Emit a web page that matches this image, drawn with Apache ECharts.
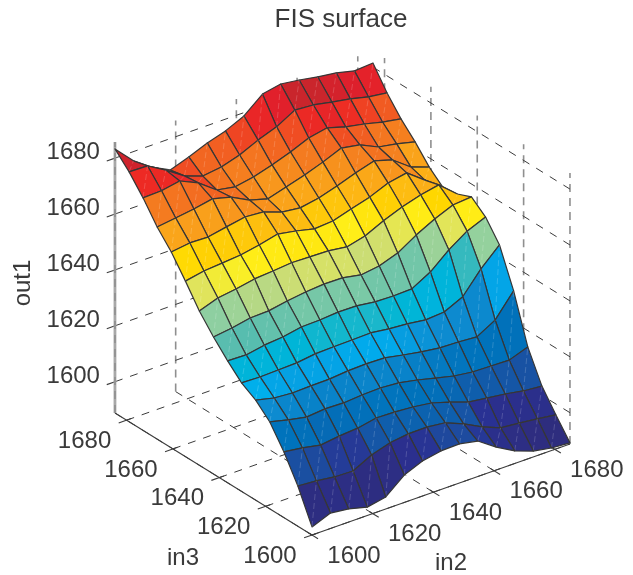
<!DOCTYPE html>
<html><head><meta charset="utf-8">
<style>html,body{margin:0;padding:0;background:#fff}#c{width:633px;height:575px}</style>
<script src="https://cdn.jsdelivr.net/npm/echarts@6/dist/echarts.min.js"></script>
</head><body><div id="c"></div>
<script>
var in2Values=[1600,1606.1,1612.1,1618.2,1624.3,1630.4,1636.4,1642.5,1648.6,1654.6,1660.7,1666.8,1672.9,1678.9,1685];
var in3Values=[1600,1606.1,1612.1,1618.2,1624.3,1630.4,1636.4,1642.5,1648.6,1654.6,1660.7,1666.8,1672.9,1678.9,1685];
var out1In3_00=[1591.7,1594.3,1593.5,1591.8,1593.1,1598.6,1601.3,1602.6,1602.8,1601.5,1597.0,1593.3,1590.9,1589.7,1589.2];
var out1In3_01=[1603.2,1602.7,1601.8,1601.6,1605.0,1607.0,1607.9,1608.0,1607.2,1604.5,1601.1,1598.4,1597.8,1597.0,1596.1];
var out1In3_02=[1612.3,1611.4,1610.1,1611.0,1611.5,1612.8,1612.6,1612.1,1611.2,1609.2,1606.9,1606.0,1605.1,1603.9,1603.3];
var out1In3_03=[1619.9,1618.3,1617.0,1617.6,1617.4,1617.9,1618.1,1617.6,1616.3,1614.7,1613.1,1612.2,1612.0,1611.8,1614.2];
var out1In3_04=[1624.6,1623.0,1622.5,1622.7,1622.8,1623.4,1623.6,1623.4,1622.1,1620.9,1620.0,1619.8,1619.3,1623.0,1631.1];
var out1In3_05=[1627.6,1627.4,1627.6,1627.8,1628.7,1628.9,1629.0,1629.2,1628.3,1627.8,1626.9,1627.4,1630.5,1638.2,1644.4];
var out1In3_06=[1632.4,1632.2,1633.4,1634.0,1635.2,1635.4,1635.9,1635.8,1634.9,1634.7,1634.9,1638.6,1644.2,1648.6,1651.3];
var out1In3_07=[1637.8,1638.7,1640.0,1640.2,1641.4,1642.3,1642.8,1642.7,1641.4,1642.3,1644.6,1648.7,1652.1,1654.8,1655.4];
var out1In3_08=[1644.0,1646.3,1647.2,1648.5,1649.0,1649.6,1649.4,1649.2,1648.3,1649.9,1653.0,1655.6,1657.6,1658.9,1653.3];
var out1In3_09=[1651.6,1652.9,1653.4,1654.0,1655.2,1656.8,1655.6,1654.0,1654.5,1656.5,1658.4,1661.1,1662.4,1657.5,1652.3];
var out1In3_10=[1658.9,1659.8,1659.6,1660.9,1662.1,1661.6,1659.2,1658.4,1659.6,1661.6,1663.9,1665.9,1663.9,1659.1,1656.7];
var out1In3_11=[1664.7,1665.6,1666.5,1667.8,1666.1,1662.7,1660.8,1662.7,1664.7,1667.0,1669.7,1668.5,1665.4,1664.2,1662.6];
var out1In3_12=[1672.0,1672.2,1673.4,1670.4,1665.5,1664.3,1665.5,1667.5,1669.8,1672.5,1673.8,1671.8,1670.5,1668.9,1667.7];
var out1In3_13=[1678.2,1678.0,1674.2,1669.8,1667.4,1668.3,1670.3,1673.3,1675.7,1679.4,1678.9,1677.6,1676.4,1674.8,1673.9];
var out1In3_14=[1683.3,1676.7,1672.2,1668.8,1671.1,1673.8,1675.8,1678.8,1684.3,1685.6,1684.7,1683.5,1682.6,1681.0,1681.5];
var out1Rows=[out1In3_00,out1In3_01,out1In3_02,out1In3_03,out1In3_04,out1In3_05,out1In3_06,out1In3_07,out1In3_08,out1In3_09,out1In3_10,out1In3_11,out1In3_12,out1In3_13,out1In3_14];
var in2Ticks=[1600,1620,1640,1660,1680];
var in3Ticks=[1600,1620,1640,1660,1680];
var out1Ticks=[1600,1620,1640,1660,1680];
var colorLevels=[1590,1601,1603,1612,1620,1624,1628,1632,1638,1641,1644,1648,1652,1656,1660,1665,1669,1672,1676,1679,1686];
var colorValues=['#2e2d7e','#2a3092','#1b4ea0','#0072bb','#0d8bd0','#00aeef','#00b5d6','#55bcb0','#90d0a0','#c8dc78','#e0e45c','#fff01a','#ffd800','#fdb913','#f99d1c','#f47920','#f15a22','#ed2a24','#e01f2c','#c9252c','#c9252c'];

var IN_MIN=1600,IN_MAX=1685,Z_MIN=1588.8,Z_MAX=1685.8;
function project(a,b,z){
  return [312+(a-1600)*3.035-(b-1600)*2.318, 535-(a-1600)*1.0706-(b-1600)*1.435-(z-Z_MIN)*2.795];
}
function hex(c){return [parseInt(c.substr(1,2),16),parseInt(c.substr(3,2),16),parseInt(c.substr(5,2),16)];}
function colorOf(z){
  var n=colorLevels.length;
  if(z<=colorLevels[0])return colorValues[0];
  for(var k=1;k<n;k++){
    if(z<=colorLevels[k]){
      var t=(z-colorLevels[k-1])/(colorLevels[k]-colorLevels[k-1]),p=hex(colorValues[k-1]),q=hex(colorValues[k]);
      return 'rgb('+Math.round(p[0]+(q[0]-p[0])*t)+','+Math.round(p[1]+(q[1]-p[1])*t)+','+Math.round(p[2]+(q[2]-p[2])*t)+')';
    }
  }
  return colorValues[n-1];
}
// surface cells, back to front
var cells=[];
for(var j=in3Values.length-2;j>=0;j--){
  for(var i=in2Values.length-2;i>=0;i--){
    cells.push([in2Values[i],in3Values[j],out1Rows[j][i],
                in2Values[i+1],in3Values[j],out1Rows[j][i+1],
                in2Values[i+1],in3Values[j+1],out1Rows[j+1][i+1],
                in2Values[i],in3Values[j+1],out1Rows[j+1][i]]);
  }
}
cells.sort(function(a,b){return (b[0]+b[1])-(a[0]+a[1]);});
// frame segments: a,b,z,a,b,z,style
var segs=[];
function seg(a1,b1,z1,a2,b2,z2,s){segs.push([a1,b1,z1,a2,b2,z2,s]);}
in2Ticks.forEach(function(t){
  seg(t,IN_MIN,Z_MIN,t,IN_MAX,Z_MIN,0);
  seg(t,IN_MAX,Z_MIN,t,IN_MAX,Z_MAX,1);
  seg(t,IN_MIN-2.6,Z_MIN,t,IN_MIN+1.5,Z_MIN,2);
});
in3Ticks.forEach(function(t){
  seg(IN_MIN,t,Z_MIN,IN_MAX,t,Z_MIN,0);
  seg(IN_MAX,t,Z_MIN,IN_MAX,t,Z_MAX,1);
  seg(IN_MIN-2.6,t,Z_MIN,IN_MIN+1.5,t,Z_MIN,2);
});
out1Ticks.forEach(function(t){
  seg(IN_MIN,IN_MAX,t,IN_MAX,IN_MAX,t,0);
  seg(IN_MAX,IN_MAX,t,IN_MAX,IN_MIN,t,0);
  seg(IN_MIN-2.7,IN_MAX,t,IN_MIN,IN_MAX,t,2);
});
seg(IN_MIN,IN_MIN,Z_MIN,IN_MIN,IN_MAX,Z_MIN,2);
seg(IN_MIN,IN_MIN,Z_MIN,IN_MAX,IN_MIN,Z_MIN,2);
seg(IN_MIN,IN_MAX,Z_MIN,IN_MIN,IN_MAX,Z_MAX,3);
seg(IN_MIN,IN_MAX,Z_MIN,IN_MIN,IN_MAX,Z_MAX,1);
var segStyles=[
  {stroke:'#3c3c3c',lineWidth:1,lineDash:[8,8]},
  {stroke:'#8f8f8f',lineWidth:1.6,lineDash:[8,6]},
  {stroke:'#3c3c3c',lineWidth:1.1},
  {stroke:'#a8a8a8',lineWidth:2.8}
];
// tick labels: a,b,z,text,dx,dy,align
var labels=[];
in2Ticks.forEach(function(t){labels.push([t,IN_MIN,Z_MIN,String(t),42,21,'center']);});
in3Ticks.forEach(function(t){labels.push([IN_MIN,t,Z_MIN,String(t),-42,21,'center']);});
out1Ticks.forEach(function(t){labels.push([IN_MIN,IN_MAX,t,String(t),-15,-5.5,'right']);});

var TEXT='#3a3a3a',FONT='"Liberation Sans",Arial,sans-serif',FS='24px ';
var chart=echarts.init(document.getElementById('c'),null,{renderer:'canvas'});
function pt(api,a,b,z){return api.coord(project(a,b,z));}
chart.setOption({
  animation:false,backgroundColor:'#fff',
  title:{text:'FIS surface',left:336,top:2,textAlign:'center',textStyle:{color:TEXT,fontSize:26,fontWeight:'normal',fontFamily:FONT}},
  grid:{left:0,right:0,top:0,bottom:0},
  xAxis:{type:'value',min:0,max:633,show:false},
  yAxis:{type:'value',min:0,max:575,inverse:true,show:false},
  tooltip:{show:false},
  graphic:[
    {type:'text',x:23,y:283,rotation:Math.PI/2,style:{text:'out1',fill:TEXT,font:FS+FONT,textAlign:'center',textVerticalAlign:'middle'},silent:true},
    {type:'text',x:183,y:558,style:{text:'in3',fill:TEXT,font:FS+FONT,textAlign:'center',textVerticalAlign:'middle'},silent:true},
    {type:'text',x:451,y:563,style:{text:'in2',fill:TEXT,font:FS+FONT,textAlign:'center',textVerticalAlign:'middle'},silent:true}
  ],
  series:[
    {type:'custom',coordinateSystem:'cartesian2d',silent:true,clip:false,z:1,data:segs,
     renderItem:function(p,api){
       var a=pt(api,api.value(0),api.value(1),api.value(2)),b=pt(api,api.value(3),api.value(4),api.value(5));
       return {type:'line',shape:{x1:a[0],y1:a[1],x2:b[0],y2:b[1]},style:segStyles[api.value(6)]};
     }},
    {type:'custom',coordinateSystem:'cartesian2d',silent:true,clip:false,z:2,data:cells,
     renderItem:function(p,api){
       var v=api.value;
       var c0=pt(api,v(0),v(1),v(2)),c1=pt(api,v(3),v(4),v(5)),c2=pt(api,v(6),v(7),v(8)),c3=pt(api,v(9),v(10),v(11));
       return {type:'group',children:[
         {type:'polygon',shape:{points:[c0,c1,c2,c3]},style:{fill:colorOf(v(2)),stroke:'#363636',lineWidth:1.2,lineJoin:'round'}},
         {type:'line',shape:{x1:c0[0],y1:c0[1],x2:c2[0],y2:c2[1]},style:{stroke:'rgba(255,255,255,0.25)',lineWidth:0.7,lineDash:[6,3]}}
       ]};
     }},
    {type:'custom',coordinateSystem:'cartesian2d',silent:true,clip:false,z:3,data:labels,
     dimensions:['a','b','z',{name:'t',type:'ordinal'},'dx','dy',{name:'al',type:'ordinal'}],
     renderItem:function(p,api){
       var r=labels[p.dataIndex],a=pt(api,r[0],r[1],r[2]);
       return {type:'text',x:a[0]+r[4],y:a[1]+r[5],style:{text:r[3],fill:TEXT,font:FS+FONT,textAlign:r[6],textVerticalAlign:'middle'}};
     }}
  ]
});
</script></body></html>
